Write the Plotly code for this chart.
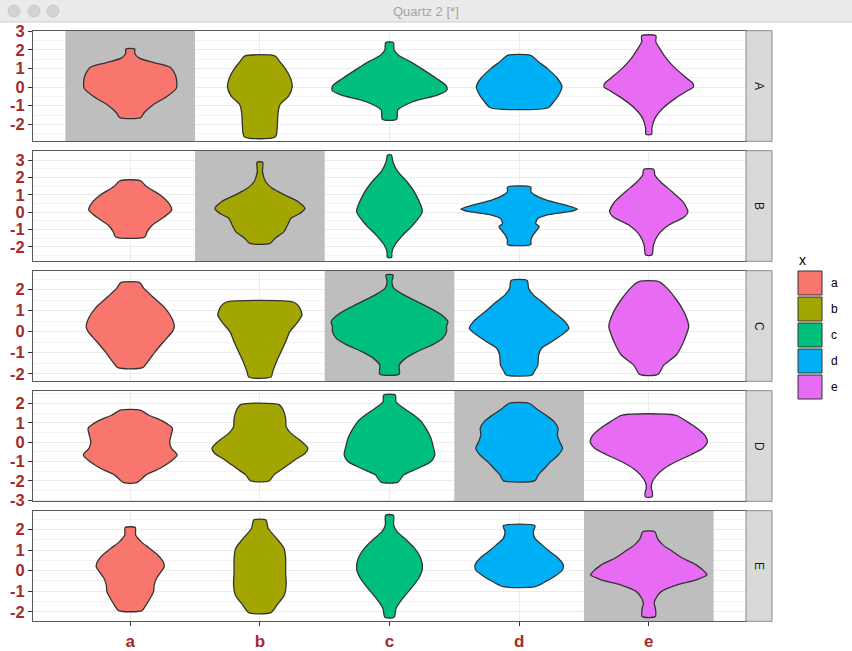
import plotly.graph_objects as go

# ---------------- data ----------------
categories = ["a", "b", "c", "d", "e"]
facets = ["A", "B", "C", "D", "E"]
fill_colors = ["#F8766D", "#A3A500", "#00BF7D", "#00B0F6", "#E76BF3"]

# y-ranges and tick values of each facet row (free y scales)
y_ranges = [[-2.91, 3.02], [-2.84, 3.54], [-2.36, 2.90], [-3.06, 2.67], [-2.46, 2.91]]
y_ticks = [[-2, -1, 0, 1, 2, 3], [-2, -1, 0, 1, 2, 3], [-2, -1, 0, 1, 2],
           [-3, -2, -1, 0, 1, 2], [-2, -1, 0, 1, 2]]

# violin outlines: y levels (top -> bottom) and half-widths (x units), per category
A_y = [
    [2.04, 1.8, 1.55, 1.3, 1.05, 0.6, 0.2, -0.08, -0.52, -0.96, -1.35, -1.64],
    [1.66, 1.35, 1.0, 0.5, 0.02, -0.5, -0.95, -1.4, -2.0, -2.66],
    [2.39, 2.0, 1.7, 1.36, 1.0, 0.47, 0.05, -0.2, -0.43, -0.79, -1.23, -1.73],
    [1.70, 1.36, 1.0, 0.47, 0.02, -0.43, -0.79, -1.11],
    [2.75, 2.43, 2.07, 1.54, 1.0, 0.46, 0.2, 0.0, -0.16, -0.61, -1.14, -1.68, -2.21, -2.54],
]
A_w = [
    [0.035, 0.035, 0.07, 0.19, 0.31, 0.35, 0.36, 0.355, 0.28, 0.175, 0.11, 0.08],
    [0.118, 0.155, 0.195, 0.235, 0.25, 0.22, 0.155, 0.14, 0.135, 0.12],
    [0.03, 0.035, 0.07, 0.16, 0.244, 0.36, 0.44, 0.44, 0.37, 0.18, 0.064, 0.055],
    [0.089, 0.148, 0.216, 0.295, 0.33, 0.305, 0.267, 0.222],
    [0.055, 0.054, 0.083, 0.135, 0.205, 0.295, 0.34, 0.345, 0.308, 0.205, 0.109, 0.047, 0.024, 0.022],
]
B_y = [
    [1.81, 1.46, 0.98, 0.5, 0.12, -0.27, -0.75, -1.13, -1.44],
    [2.87, 2.33, 1.75, 1.37, 0.98, 0.6, 0.21, -0.08, -0.37, -0.75, -1.13, -1.52, -1.81],
    [3.29, 2.9, 2.33, 1.75, 0.98, 0.02, -0.75, -1.33, -1.9, -2.29, -2.61],
    [1.44, 1.17, 0.98, 0.69, 0.4, 0.17, 0.02, -0.17, -0.37, -0.65, -0.85, -1.04, -1.33, -1.62, -1.87],
    [2.46, 2.14, 1.75, 1.17, 0.6, 0.02, -0.27, -0.75, -1.33, -1.9, -2.48],
]
B_w = [
    [0.077, 0.128, 0.231, 0.298, 0.32, 0.263, 0.171, 0.131, 0.112],
    [0.022, 0.02, 0.045, 0.096, 0.193, 0.295, 0.347, 0.308, 0.238, 0.214, 0.186, 0.116, 0.077],
    [0.015, 0.026, 0.064, 0.135, 0.205, 0.253, 0.18, 0.103, 0.041, 0.019, 0.016],
    [0.09, 0.09, 0.122, 0.212, 0.36, 0.45, 0.379, 0.212, 0.144, 0.128, 0.155, 0.137, 0.107, 0.09, 0.09],
    [0.039, 0.047, 0.09, 0.18, 0.263, 0.302, 0.276, 0.154, 0.071, 0.036, 0.024],
]
C_y = [
    [2.33, 2.07, 1.59, 1.11, 0.64, 0.24, 0.0, -0.48, -0.95, -1.43, -1.71],
    [1.40, 1.19, 0.8, 0.48, 0.0, -0.48, -0.95, -1.43, -1.9, -2.16],
    [2.70, 2.38, 2.07, 1.75, 1.43, 1.11, 0.8, 0.48, 0.24, 0.0, -0.32, -0.63, -0.95, -1.27, -1.59, -2.01],
    [2.43, 2.07, 1.75, 1.43, 0.95, 0.48, 0.16, -0.16, -0.48, -0.79, -1.11, -1.59, -1.9, -2.06],
    [2.38, 2.07, 1.59, 1.11, 0.64, 0.24, -0.16, -0.63, -1.11, -1.59, -2.03],
]
C_w = [
    [0.073, 0.103, 0.186, 0.27, 0.321, 0.34, 0.325, 0.257, 0.193, 0.135, 0.096],
    [0.263, 0.302, 0.325, 0.295, 0.231, 0.199, 0.164, 0.128, 0.099, 0.086],
    [0.028, 0.018, 0.033, 0.11, 0.213, 0.316, 0.4, 0.45, 0.44, 0.44, 0.41, 0.33, 0.213, 0.123, 0.075, 0.075],
    [0.062, 0.073, 0.109, 0.173, 0.263, 0.353, 0.384, 0.327, 0.25, 0.173, 0.15, 0.144, 0.116, 0.1],
    [0.077, 0.141, 0.205, 0.257, 0.293, 0.308, 0.289, 0.257, 0.212, 0.116, 0.071],
]
D_y = [
    [1.66, 1.41, 1.07, 0.73, 0.38, 0.03, -0.31, -0.66, -1.0, -1.35, -1.69, -2.09],
    [1.95, 1.67, 1.24, 0.81, 0.47, 0.12, -0.31, -0.57, -0.92, -1.35, -1.69, -2.0],
    [2.45, 2.1, 1.76, 1.41, 1.07, 0.73, 0.21, -0.31, -0.66, -1.0, -1.35, -1.69, -2.07],
    [2.02, 1.76, 1.41, 1.07, 0.73, 0.38, 0.03, -0.31, -0.66, -1.0, -1.35, -1.69, -1.99],
    [1.40, 1.07, 0.73, 0.38, 0.03, -0.31, -0.66, -1.0, -1.35, -1.69, -2.04, -2.38, -2.56, -2.83],
]
D_w = [
    [0.077, 0.141, 0.257, 0.325, 0.316, 0.304, 0.318, 0.362, 0.311, 0.231, 0.122, 0.051],
    [0.148, 0.18, 0.199, 0.203, 0.238, 0.308, 0.37, 0.349, 0.27, 0.18, 0.109, 0.071],
    [0.045, 0.05, 0.11, 0.187, 0.245, 0.28, 0.32, 0.34, 0.35, 0.32, 0.22, 0.11, 0.065],
    [0.077, 0.128, 0.205, 0.27, 0.3, 0.295, 0.312, 0.335, 0.302, 0.244, 0.196, 0.148, 0.122],
    [0.205, 0.295, 0.372, 0.43, 0.452, 0.417, 0.321, 0.212, 0.122, 0.064, 0.028, 0.019, 0.027, 0.026],
]
E_y = [
    [2.09, 1.73, 1.41, 1.09, 0.76, 0.44, 0.19, -0.05, -0.37, -0.69, -1.02, -1.34, -1.67, -1.94],
    [2.46, 2.06, 1.57, 1.09, 0.6, -0.05, -0.69, -1.18, -1.67, -2.04],
    [2.69, 2.22, 1.89, 1.57, 1.09, 0.6, 0.11, -0.37, -0.86, -1.34, -1.83, -2.26],
    [2.18, 1.89, 1.57, 1.25, 0.92, 0.6, 0.28, 0.03, -0.21, -0.53, -0.78],
    [1.89, 1.57, 1.25, 0.92, 0.6, 0.28, -0.05, -0.21, -0.45, -0.69, -1.02, -1.34, -1.58, -1.83, -2.23],
]
E_w = [
    [0.039, 0.042, 0.083, 0.148, 0.212, 0.253, 0.263, 0.238, 0.203, 0.185, 0.18, 0.154, 0.122, 0.09],
    [0.047, 0.064, 0.128, 0.186, 0.199, 0.199, 0.203, 0.189, 0.132, 0.086],
    [0.03, 0.032, 0.058, 0.116, 0.193, 0.241, 0.254, 0.225, 0.167, 0.103, 0.051, 0.036],
    [0.122, 0.109, 0.122, 0.176, 0.238, 0.302, 0.34, 0.334, 0.289, 0.205, 0.122],
    [0.047, 0.067, 0.109, 0.186, 0.263, 0.366, 0.43, 0.449, 0.366, 0.218, 0.096, 0.055, 0.042, 0.051, 0.051],
]
# highlighted (grey) category in each facet row
highlight = ["a", "b", "c", "d", "e"]

profiles_y = [A_y, B_y, C_y, D_y, E_y]
profiles_w = [A_w, B_w, C_w, D_w, E_w]

# ---------------- layout geometry (pixels) ----------------
W, H = 852, 651
def px_x(x):
    return x / W
def px_y(y):
    return 1 - y / H

PANEL_L, PANEL_R = 33, 746
STRIP_R = 772
panel_tops = [30.7, 150.7, 270.7, 390.7, 510.7]
PANEL_H = 110.6
TICK_COLOR = "#A62A2A"
BORDER = "#5A5A5A"

fig = go.Figure()
shapes = []
annotations = []

for r, facet in enumerate(facets):
    xa = "x" if r == 0 else f"x{r+1}"
    ya = "y" if r == 0 else f"y{r+1}"
    lo, hi_y = y_ranges[r]
    # highlight rectangle (filled trace drawn first, covering the grid)
    hi = categories.index(highlight[r]) + 1
    fig.add_trace(go.Scatter(
        x=[hi - 0.5, hi + 0.5, hi + 0.5, hi - 0.5, hi - 0.5],
        y=[lo, lo, hi_y, hi_y, lo], xaxis=xa, yaxis=ya, mode="lines", fill="toself",
        fillcolor="#BEBEBE", line=dict(width=0, color="#BEBEBE"), showlegend=False, hoverinfo="skip"))
    for c, cat in enumerate(categories):
        ys = profiles_y[r][c]
        ws = profiles_w[r][c]
        pos = c + 1
        xs = [pos + w for w in ws] + [pos - w for w in reversed(ws)] + [pos + ws[0]]
        yy = list(ys) + list(reversed(ys)) + [ys[0]]
        fig.add_trace(go.Scatter(
            x=xs, y=yy, xaxis=xa, yaxis=ya, mode="lines", fill="toself",
            fillcolor=fill_colors[c], line=dict(color="#333333", width=1.3, shape="spline", smoothing=0.7),
            name=cat, showlegend=False, hoverinfo="skip"))
    top = panel_tops[r]
    bot = top + PANEL_H
    dom_y = [px_y(bot), px_y(top)]
    last = r == len(facets) - 1
    xkey = "xaxis" if r == 0 else f"xaxis{r+1}"
    ykey = "yaxis" if r == 0 else f"yaxis{r+1}"
    fig.layout[xkey] = dict(
        domain=[px_x(PANEL_L), px_x(PANEL_R)], anchor=ya, range=[0.25, 5.75], automargin=False,
        tickmode="array", tickvals=[1, 2, 3, 4, 5], ticktext=categories,
        showticklabels=last, ticks="outside" if last else "", ticklen=4, tickcolor="#333333",
        tickfont=dict(family="Liberation Sans", size=17, color=TICK_COLOR, weight="bold"),
        showgrid=True, gridcolor="#EBEBEB", gridwidth=1, zeroline=False,
        showline=True, mirror=True, linecolor=BORDER, linewidth=1)
    fig.layout[ykey] = dict(
        domain=dom_y, anchor=xa, range=y_ranges[r], automargin=False,
        tickmode="array", tickvals=y_ticks[r],
        ticktext=[str(t) for t in y_ticks[r]],
        ticks="outside", ticklen=4, tickcolor="#333333",
        tickfont=dict(family="Liberation Sans", size=16.5, color=TICK_COLOR, weight="bold"),
        showgrid=True, gridcolor="#EBEBEB", gridwidth=1, zeroline=False,
        minor=dict(tickmode="linear", tick0=0.5, dtick=1, showgrid=True, gridcolor="#F3F3F3", gridwidth=0.6),
        showline=True, mirror=True, linecolor=BORDER, linewidth=1)
    # strip
    shapes.append(dict(type="rect", xref="paper", yref="paper", x0=px_x(PANEL_R), x1=px_x(STRIP_R),
                       y0=px_y(bot), y1=px_y(top), fillcolor="#D9D9D9",
                       line=dict(color="#8A8A8A", width=1)))
    annotations.append(dict(xref="paper", yref="paper", x=px_x((PANEL_R + STRIP_R) / 2),
                            y=px_y(top + PANEL_H / 2), text=facet, textangle=90, showarrow=False,
                            font=dict(family="Liberation Sans", size=12, color="#1A1A1A"),
                            xanchor="center", yanchor="middle"))

# ---------------- legend (drawn manually, ggplot style) ----------------
annotations.append(dict(xref="paper", yref="paper", x=px_x(797), y=px_y(260), text="x",
                        showarrow=False, xanchor="left", yanchor="middle",
                        font=dict(family="Liberation Sans", size=14, color="#000000")))
for i, cat in enumerate(categories):
    y0 = 271 + 26 * i
    shapes.append(dict(type="rect", xref="paper", yref="paper", x0=px_x(798), x1=px_x(822),
                       y0=px_y(y0 + 24), y1=px_y(y0), fillcolor=fill_colors[i],
                       line=dict(color="#333333", width=1)))
    annotations.append(dict(xref="paper", yref="paper", x=px_x(829), y=px_y(y0 + 12), text=cat,
                            showarrow=False, xanchor="left", yanchor="middle",
                            font=dict(family="Liberation Sans", size=12, color="#000000")))

# ---------------- window title bar ----------------
shapes.append(dict(type="rect", xref="paper", yref="paper", x0=0, x1=1, y0=px_y(22), y1=1,
                   fillcolor="#EAEAEA", line=dict(width=0)))
shapes.append(dict(type="line", xref="paper", yref="paper", x0=0, x1=1, y0=px_y(22), y1=px_y(22),
                   line=dict(color="#CDCDCD", width=1)))
for cx in [14, 34, 53]:
    shapes.append(dict(type="circle", xref="paper", yref="paper", x0=px_x(cx - 6), x1=px_x(cx + 6),
                       y0=px_y(17), y1=px_y(5), fillcolor="#D3D3D3",
                       line=dict(color="#C4C4C4", width=0.8)))
annotations.append(dict(xref="paper", yref="paper", x=px_x(426), y=px_y(11), text="Quartz 2 [*]",
                        showarrow=False, xanchor="center", yanchor="middle",
                        font=dict(family="Liberation Sans", size=13, color="#A4A4A4")))

fig.update_layout(
    width=W, height=H, margin=dict(l=0, r=0, t=0, b=0, autoexpand=False),
    paper_bgcolor="white", plot_bgcolor="white", showlegend=False,
    shapes=shapes, annotations=annotations,
)

fig.write_html("out.html")
